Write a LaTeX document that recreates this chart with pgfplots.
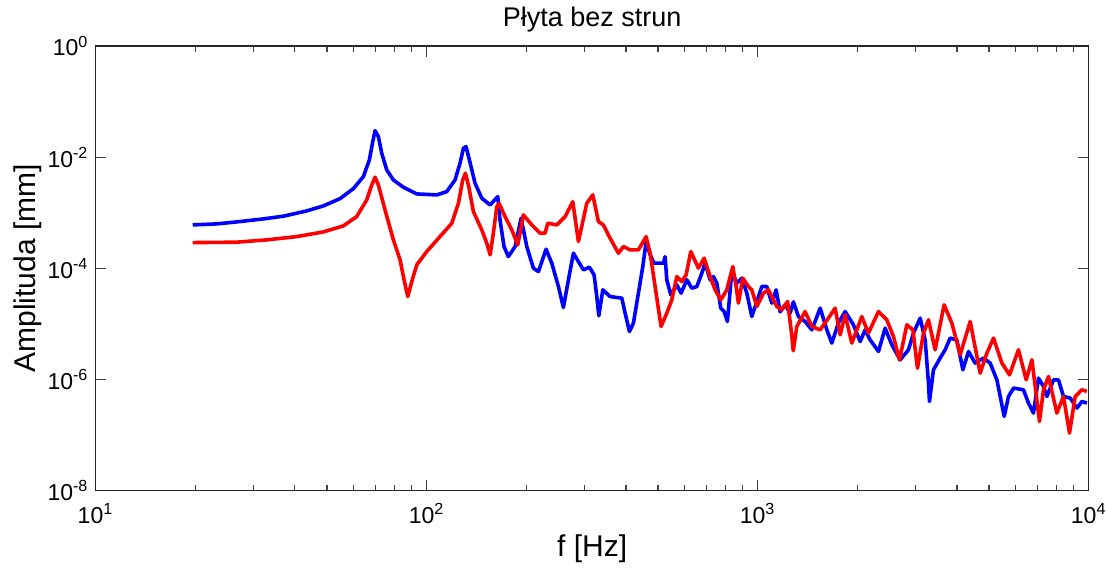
\documentclass[border=0pt]{standalone}
\usepackage{fontspec}
\setmainfont{Liberation Sans}
\usepackage{pgfplots}
\pgfplotsset{compat=1.18}
\begin{document}
\begin{tikzpicture}
\useasboundingbox (0,0) rectangle (553pt,284.5pt);
\begin{axis}[
  at={(47.75pt,39.25pt)}, anchor=south west,
  scale only axis, width=496.6pt, height=222.25pt,
  xmode=log, ymode=log,
  xmin=10, xmax=10000, ymin=1e-8, ymax=1,
  xtick={10,100,1000,10000},
  xticklabels={10\textsuperscript{1},10\textsuperscript{2},10\textsuperscript{3},10\textsuperscript{4}},
  minor xtick={20,30,40,50,60,70,80,90,200,300,400,500,600,700,800,900,2000,3000,4000,5000,6000,7000,8000,9000},
  ytick={1e-8,1e-6,1e-4,1e-2,1},
  yticklabels={10\textsuperscript{-8},10\textsuperscript{-6},10\textsuperscript{-4},10\textsuperscript{-2},10\textsuperscript{0}},
  yminorticks=false,
  major tick length=5.25pt, minor tick length=2.75pt,
  tick style={color=black!75, line width=0.6pt},
  axis line style={line width=0.7pt, black!85},
  ticklabel style={font=\fontsize{11.5}{13}\selectfont},
  xticklabel style={yshift=-3pt},
  title={Płyta bez strun},
  every axis title/.style={at={(axis description cs:0.5,1.0607)}, anchor=center, font=\fontsize{13.5}{16}\selectfont},
  xlabel={f [Hz]},
  xlabel style={at={(axis description cs:0.5,-0.1305)}, anchor=center, font=\fontsize{15}{18}\selectfont},
  ylabel={Amplituda [mm]},
  ylabel style={at={(axis description cs:-0.068,0.5)}, anchor=center, font=\fontsize{15}{18}\selectfont},
]
\addplot[blue, line width=1.8pt, line join=round] table {
f A
19.67 6.03e-4
23.24 6.29e-4
26.71 6.83e-4
32.14 7.73e-4
36.93 8.65e-4
43.46 1.077e-3
48.78 1.325e-3
54.79 1.793e-3
60.10 2.713e-3
64.44 4.459e-3
67.18 8.91e-3
68.78 1.900e-2
69.89 2.996e-2
71.52 2.337e-2
73.22 1.175e-2
75.81 5.885e-3
79.38 3.889e-3
85.11 2.874e-3
93.41 2.178e-3
107.4 2.090e-3
115.1 2.395e-3
121.9 3.889e-3
126.2 7.77e-3
129.2 1.445e-2
131.6 1.545e-2
134.7 8.91e-3
140.1 3.392e-3
146.8 1.823e-3
155.6 1.381e-3
164.1 1.948e-3
166.7 7.42e-4
171.4 2.456e-4
176.6 1.623e-4
185.1 2.456e-4
193.0 7.96e-4
200.8 2.456e-4
210.2 1.004e-4
217.7 8.72e-5
229.6 2.205e-4
238.9 1.234e-4
250.2 4.69e-5
259.0 1.964e-5
268.2 6.18e-5
277.7 1.869e-4
287.5 1.319e-4
297.7 9.36e-5
310.3 1.046e-4
320.6 7.61e-5
326.7 3.097e-5
331.3 1.392e-5
340.7 4.09e-5
358.4 3.097e-5
388.9 2.898e-5
397.9 1.557e-5
410.0 7.27e-6
421.5 1.029e-5
436.4 3.565e-5
449.9 1.073e-4
460.4 3.020e-4
473.4 1.741e-4
486.8 1.234e-4
519.3 1.234e-4
525.4 1.623e-4
531.6 6.18e-5
546.6 3.323e-5
570.0 5.03e-5
587.2 3.565e-5
611.1 6.18e-5
632.7 4.385e-5
655.1 4.69e-5
678.3 8.16e-5
694.0 1.234e-4
718.6 6.18e-5
735.2 7.09e-5
752.8 5.39e-5
774.0 1.916e-5
792.0 1.664e-5
810.4 1.100e-5
835.6 8.72e-5
865.2 5.39e-5
895.8 6.63e-5
927.5 3.565e-5
960.3 1.352e-5
994.3 2.518e-5
1029.4 4.69e-5
1065.8 4.69e-5
1103.5 2.356e-5
1137.0 4.09e-5
1169.1 1.643e-5
1210.5 2.196e-5
1253.3 1.557e-5
1282.5 2.487e-5
1328 1.352e-5
1391 1.100e-5
1458 7.80e-6
1545 1.916e-5
1618 7.80e-6
1675 4.50e-6
1754 1.029e-5
1838 1.664e-5
1947 9.59e-6
2040 4.80e-6
2112 7.80e-6
2187 5.15e-6
2317 3.18e-6
2427 8.37e-6
2543 4.19e-6
2695 2.25e-6
2855 3.41e-6
2956 6.80e-6
3097 1.266e-5
3206 5.15e-6
3281 8.58e-7
3304 4.00e-7
3397 1.488e-6
3558 2.42e-6
3685 3.41e-6
3815 5.53e-6
3998 5.15e-6
4168 1.488e-6
4334 3.18e-6
4540 1.963e-6
4809 2.42e-6
5040 1.963e-6
5280 9.83e-7
5429 4.30e-7
5555 2.15e-7
5724 4.92e-7
5927 6.97e-7
6353 6.50e-7
6577 3.75e-7
6810 2.48e-7
7052 1.055e-6
7302 7.45e-7
7477 4.92e-7
7828 9.83e-7
8103 9.83e-7
8390 4.92e-7
8794 4.61e-7
9213 3.05e-7
9537 4.00e-7
9874 3.75e-7
};
\addplot[red, line width=1.8pt, line join=round] table {
f A
19.67 2.899e-4
26.71 2.947e-4
32.90 3.241e-4
40.54 3.716e-4
48.78 4.515e-4
56.06 5.79e-4
61.52 8.51e-4
65.96 1.699e-3
68.31 3.162e-3
69.89 4.349e-3
71.52 3.162e-3
74.92 1.123e-3
79.38 3.241e-4
83.18 1.416e-4
85.51 6.18e-5
87.74 3.097e-5
90.22 5.76e-5
93.41 1.151e-4
100.1 1.997e-4
109.8 3.716e-4
119.2 6.47e-4
124.8 1.482e-3
128.6 3.889e-3
131.0 5.134e-3
134.1 2.947e-3
138.5 1.046e-3
146.8 4.904e-4
152.0 2.828e-4
155.6 1.741e-4
159.1 4.278e-4
163.0 1.287e-3
165.6 1.470e-3
172.6 8.51e-4
180.9 4.904e-4
188.6 2.635e-4
196.1 9.13e-4
207.9 6.03e-4
220.3 4.278e-4
228.0 4.278e-4
232.3 6.47e-4
247.4 6.03e-4
262.1 8.51e-4
276.5 1.583e-3
287.5 3.020e-4
304.8 1.482e-3
317.8 2.090e-3
330.4 6.92e-4
342.0 6.03e-4
358.4 3.477e-4
379.8 1.869e-4
393.2 2.456e-4
411.9 2.142e-4
436.4 2.142e-4
460.4 3.716e-4
473.4 1.869e-4
490.1 4.69e-5
510.9 8.94e-6
531.6 1.557e-5
550.5 2.701e-5
570.0 7.09e-5
590.2 5.76e-5
608.1 7.61e-5
628.3 1.997e-4
662.4 1.004e-4
689.2 1.519e-4
718.6 7.09e-5
744.0 4.09e-5
774.0 2.701e-5
807.0 4.09e-5
841.4 1.073e-4
861.0 4.69e-5
874.8 2.356e-5
902.0 6.63e-5
937.9 4.69e-5
960.3 4.09e-5
994.3 2.047e-5
1041 3.565e-5
1078 4.09e-5
1143 2.047e-5
1182 1.786e-5
1232 2.518e-5
1269 5.91e-6
1281 3.27e-6
1313 8.94e-6
1391 1.664e-5
1458 8.94e-6
1545 7.80e-6
1636 1.266e-5
1714 1.916e-5
1775 6.34e-6
1838 1.451e-5
1925 4.50e-6
2064 1.352e-5
2161 6.80e-6
2317 1.664e-5
2456 1.180e-5
2572 5.91e-6
2682 2.25e-6
2823 9.59e-6
2944 7.80e-6
3039 1.596e-6
3169 6.80e-6
3281 1.180e-5
3437 3.41e-6
3659 2.196e-5
3861 1.029e-5
4090 2.77e-6
4385 1.100e-5
4700 1.297e-6
4925 2.97e-6
5158 5.53e-6
5468 1.963e-6
5764 1.209e-6
6136 3.41e-6
6474 9.83e-7
6737 2.25e-6
7101 1.748e-7
7302 6.50e-7
7561 1.127e-6
8014 2.48e-7
8390 4.92e-7
8750 1.081e-7
9104 4.92e-7
9537 6.50e-7
9874 6.06e-7
};
\end{axis}
\end{tikzpicture}
\end{document}
